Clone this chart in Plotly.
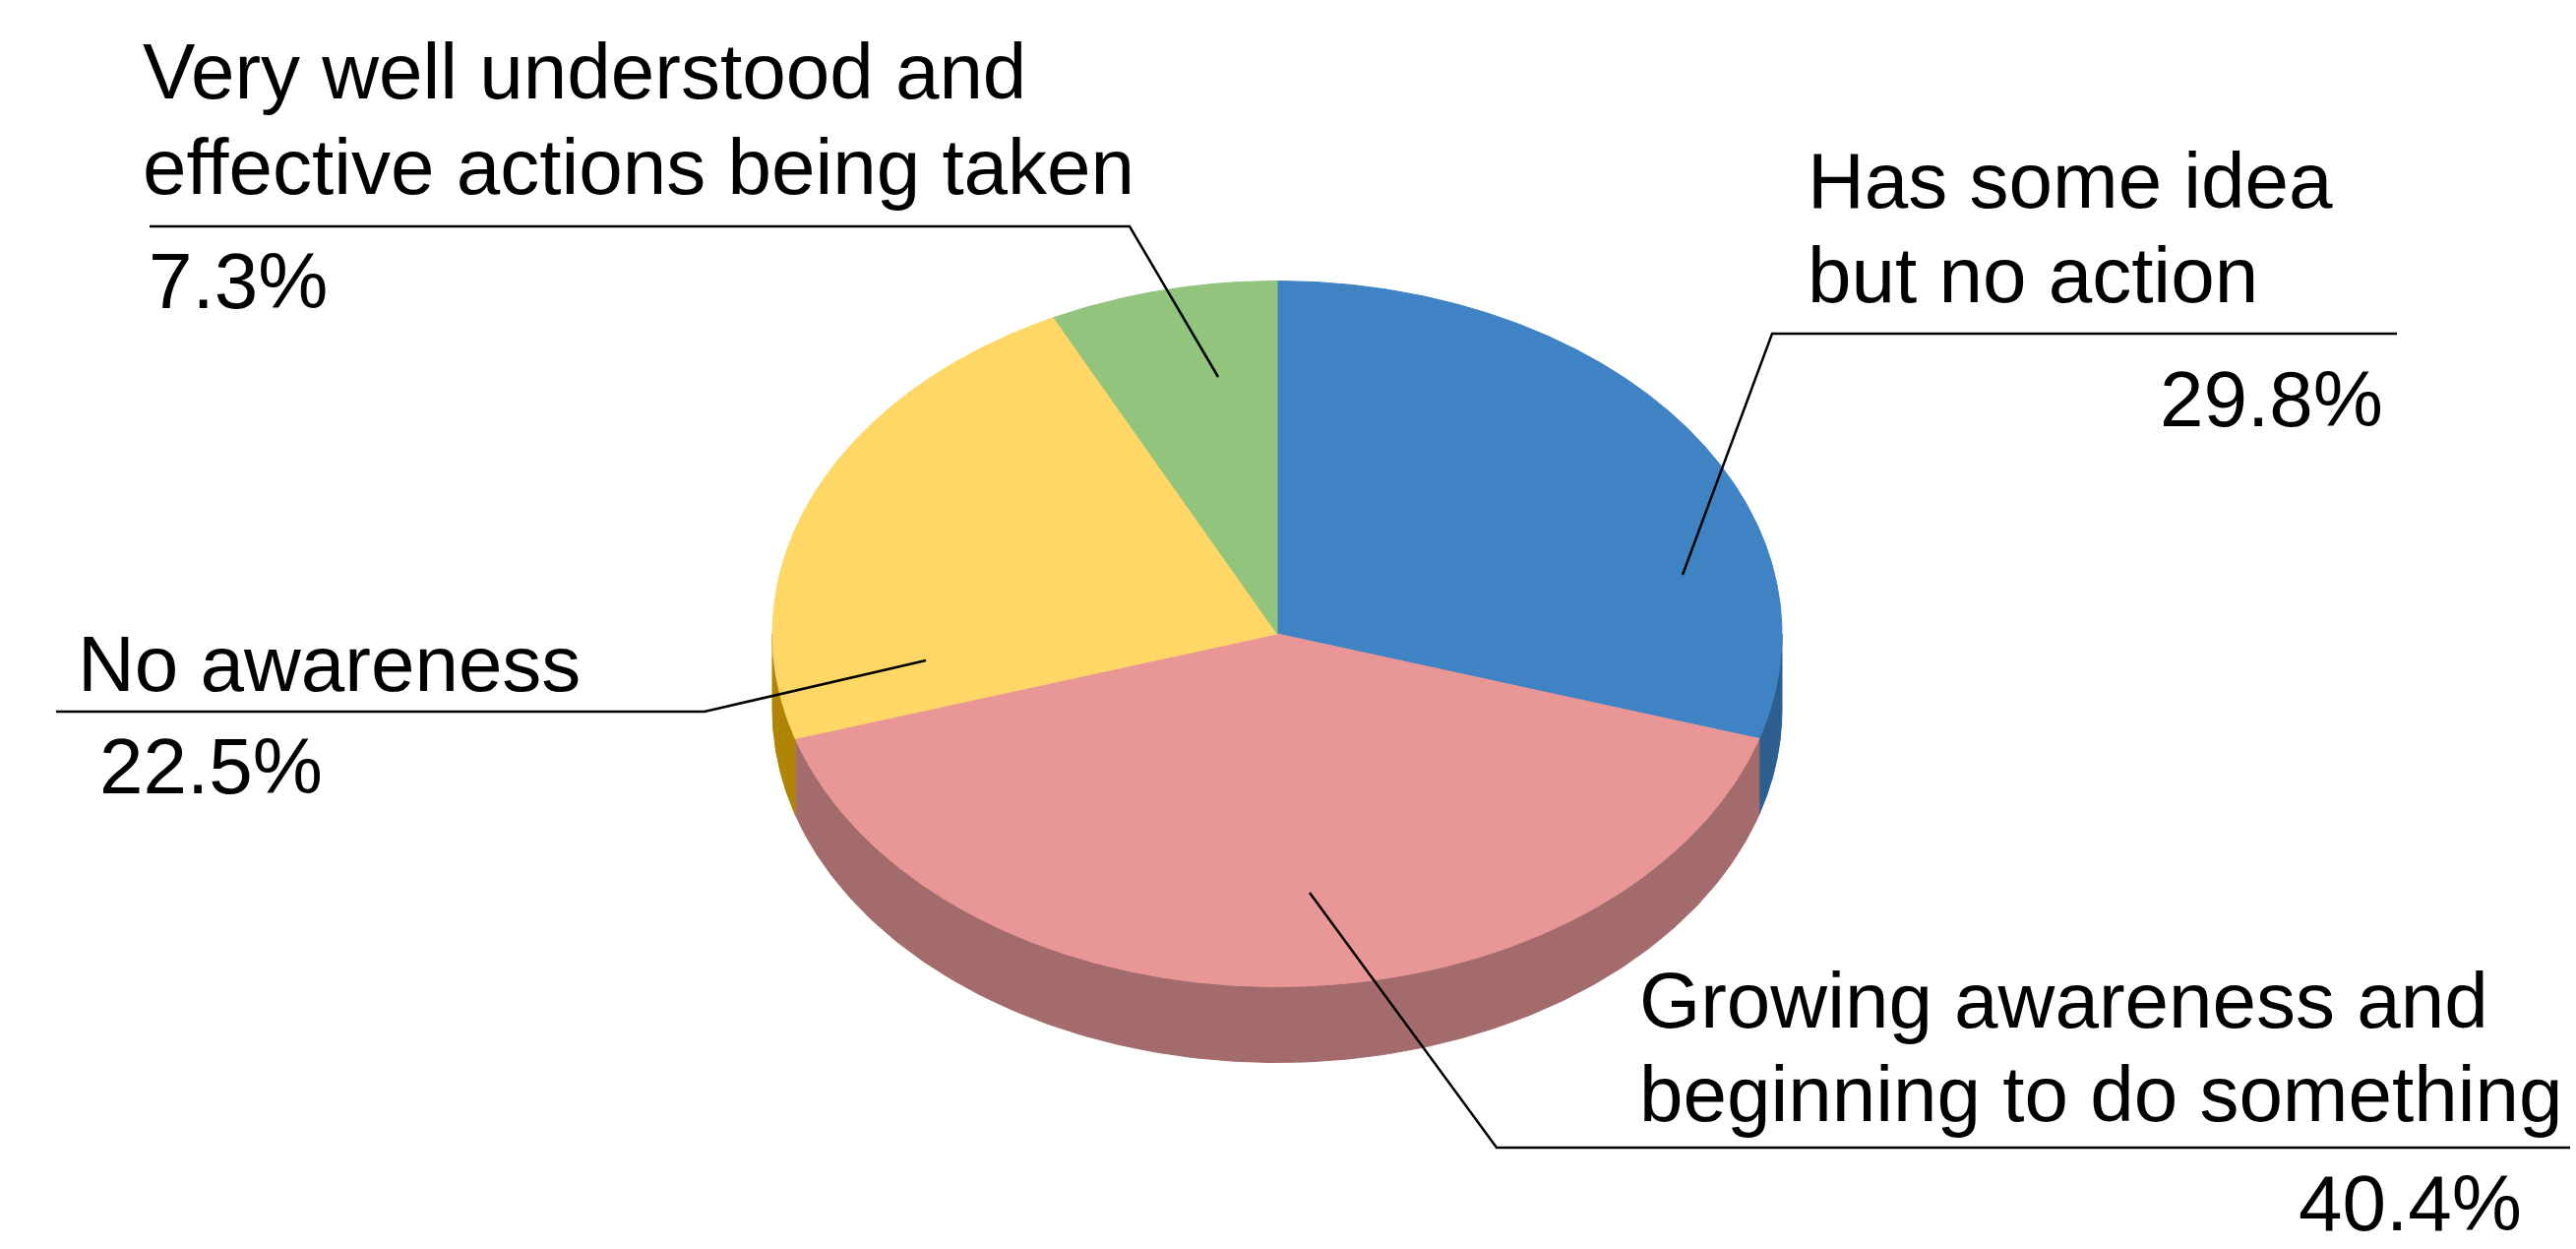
import numpy as np
import plotly.graph_objects as go

# Survey shares, listed clockwise from 12 o'clock
categories = [
    "Has some idea but no action",
    "Growing awareness and beginning to do something",
    "No awareness",
    "Very well understood and effective actions being taken",
]
shares = [29.8, 40.4, 22.5, 7.3]
pct_labels = ["29.8%", "40.4%", "22.5%", "7.3%"]

top_colors = ["#3f83c4", "#e89696", "#fed766", "#93c47d"]
side_colors = ["#2c5f8e", "#a36b6b", "#b08405", "#67894f"]

W, H = 2618, 1269

# Pie geometry in canvas units (tilted disc)
CX, CY = 1298.0, 644.0
RX, RY = 513.0, 358.5
DEPTH = 77.0


def rim(theta_deg, dz=0.0):
    t = np.radians(theta_deg)
    return CX + RX * np.sin(t), CY - RY * np.cos(t) + dz


total = float(sum(shares))
bounds = np.concatenate([[0.0], np.cumsum(shares) / total * 360.0])

fig = go.Figure()

# Visible side walls (front half of the disc: 90..270 degrees)
for i in range(len(shares)):
    a0, a1 = bounds[i], bounds[i + 1]
    lo, hi = max(a0, 90.0), min(a1, 270.0)
    if hi <= lo:
        continue
    ts = np.linspace(lo, hi, 200)
    xt, yt = rim(ts)
    xb, yb = rim(ts[::-1], DEPTH)
    xs = np.concatenate([xt, xb, xt[:1]])
    ys = np.concatenate([yt, yb, yt[:1]])
    fig.add_trace(go.Scatter(
        x=xs, y=ys, mode="lines", fill="toself",
        fillcolor=side_colors[i], line=dict(color=side_colors[i], width=1),
        hoverinfo="skip", showlegend=False,
    ))

# Top faces of the wedges
for i in range(len(shares)):
    a0, a1 = bounds[i], bounds[i + 1]
    ts = np.linspace(a0, a1, 400)
    xr, yr = rim(ts)
    xs = np.concatenate([[CX], xr, [CX]])
    ys = np.concatenate([[CY], yr, [CY]])
    fig.add_trace(go.Scatter(
        x=xs, y=ys, mode="lines", fill="toself",
        fillcolor=top_colors[i], line=dict(color=top_colors[i], width=1),
        name=categories[i], text=pct_labels[i],
        hoverinfo="name+text", showlegend=False,
    ))

# Leader lines from each label to its slice
leaders = [
    [(2436, 339), (1801, 339), (1710, 584)],
    [(2612, 1166), (1521, 1166), (1331, 907)],
    [(57, 723), (716, 723), (941, 671)],
    [(152, 230), (1148, 230), (1238, 383)],
]
shapes = []
for pts in leaders:
    path = "M " + " L ".join(f"{x},{y}" for x, y in pts)
    shapes.append(dict(type="path", path=path, xref="x", yref="y",
                       line=dict(color="black", width=2.5)))

FONT = dict(family="Liberation Sans, Arial, sans-serif", size=80, color="black")
BASE_SHIFT = 28  # baseline offset from the middle of a text line

# (text, x, baseline, anchor)
label_lines = [
    ("Has some idea", 1835, 211, "left"),
    ("but no action", 1835, 307, "left"),
    (pct_labels[0], 2424, 433, "right"),
    ("Growing awareness and", 1664, 1044, "left"),
    ("beginning to do something", 1664, 1139, "left"),
    ("No awareness", 77, 702, "left"),
    (pct_labels[2], 99, 806, "left"),
    ("Very well understood and", 143, 100, "left"),
    ("effective actions being taken", 143, 197, "left"),
    (pct_labels[3], 149, 313, "left"),
]
annotations = [
    dict(text=t, x=x, y=b - BASE_SHIFT, xref="x", yref="y",
         xanchor=a, yanchor="middle", showarrow=False, font=FONT)
    for t, x, b, a in label_lines
]
# The bottom percentage sits flush against the lower edge of the canvas
annotations.append(dict(
    text=pct_labels[1], x=2564, y=H - 1, xref="x", yref="y",
    xanchor="right", yanchor="bottom", showarrow=False, font=FONT,
    borderpad=0,
))

fig.update_layout(
    width=W, height=H,
    margin=dict(l=0, r=0, t=0, b=0),
    paper_bgcolor="white", plot_bgcolor="white",
    xaxis=dict(range=[0, W], visible=False, fixedrange=True),
    yaxis=dict(range=[H, 0], visible=False, fixedrange=True),
    shapes=shapes, annotations=annotations,
    showlegend=False,
)

fig.write_html("out.html")
